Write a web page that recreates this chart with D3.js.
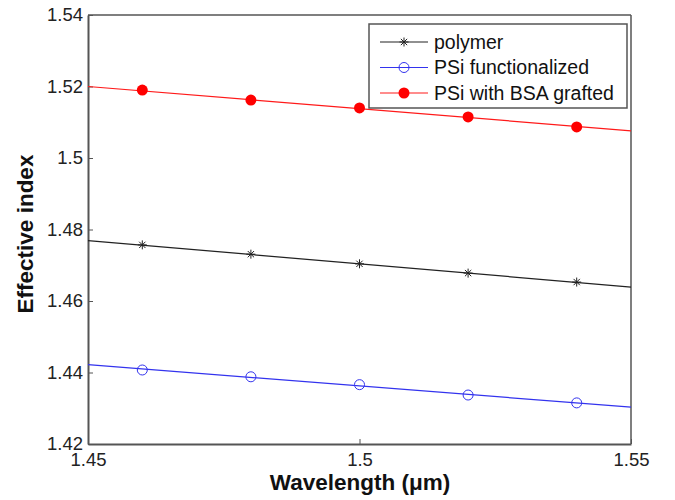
<!DOCTYPE html>
<html><head><meta charset="utf-8">
<script src="https://cdn.jsdelivr.net/npm/d3@7"></script>
<style>body{margin:0;background:#fff;font-family:Arial,"Liberation Sans",sans-serif}</style>
</head><body><svg id="c" width="675" height="500"></svg>
<script>
const wavelengths = [1.46, 1.48, 1.50, 1.52, 1.54];
const polymer = [1.4757, 1.4731, 1.4704, 1.4678, 1.4653];
const psiFunc = [1.4407, 1.4388, 1.4366, 1.4337, 1.4315];
const psiBSA = [1.5190, 1.5162, 1.5140, 1.5115, 1.5087];
const fitX = [1.45, 1.55];
const polymerFit = [1.4769, 1.4639];
const psiFuncFit = [1.4422, 1.4303];
const psiBSAFit = [1.5200, 1.5076];
const xTicks = [1.45, 1.5, 1.55];
const yTicks = [1.42, 1.44, 1.46, 1.48, 1.5, 1.52, 1.54];
const legendLabels = ["polymer", "PSi functionalized", "PSi with BSA grafted"];

const svg = d3.select("#c");
const L = 88, R = 631, T = 15, B = 444;
const x = d3.scaleLinear().domain([1.45, 1.55]).range([L, R]);
const y = d3.scaleLinear().domain([1.42, 1.54]).range([B, T]);
const axisCol = "#555";

const xa = svg.append("g").attr("transform", `translate(0,${B})`)
  .call(d3.axisBottom(x).tickValues(xTicks).tickFormat(d3.format("")).tickSizeInner(-5).tickSizeOuter(0).tickPadding(9));
const ya = svg.append("g").attr("transform", `translate(${L},0)`)
  .call(d3.axisLeft(y).tickValues(yTicks).tickFormat(d3.format("")).tickSizeInner(-5).tickSizeOuter(0).tickPadding(5));
[xa, ya].forEach(a => {
  a.selectAll("path").attr("stroke", axisCol).attr("stroke-width", 2);
  a.selectAll("line").attr("stroke", axisCol);
  a.selectAll("text").attr("font-size", 18.5).attr("font-family", "Arial, Liberation Sans").attr("fill", "#222");
});
svg.append("line").attr("x1", L).attr("x2", R).attr("y1", T).attr("y2", T).attr("stroke", axisCol).attr("stroke-width", 1.5);
svg.append("line").attr("x1", R).attr("x2", R).attr("y1", T).attr("y2", B).attr("stroke", axisCol).attr("stroke-width", 1.5);

const line = d3.line().x(d => x(d[0])).y(d => y(d[1]));
const series = [
  {fit: polymerFit, vals: polymer, color: "#222", marker: "star"},
  {fit: psiFuncFit, vals: psiFunc, color: "#3333ee", marker: "open"},
  {fit: psiBSAFit, vals: psiBSA, color: "#ff1a1a", marker: "dot"}
];
function drawMarker(g, type, color, cx, cy) {
  if (type === "dot") {
    g.append("circle").attr("cx", cx).attr("cy", cy).attr("r", 5.5).attr("fill", "#ff0000");
  } else if (type === "open") {
    g.append("circle").attr("cx", cx).attr("cy", cy).attr("r", 5).attr("fill", "none").attr("stroke", color).attr("stroke-width", 1);
  } else {
    const s = 4.5;
    const p = `M${cx-s},${cy}L${cx+s},${cy}M${cx},${cy-s}L${cx},${cy+s}M${cx-s*0.7},${cy-s*0.7}L${cx+s*0.7},${cy+s*0.7}M${cx-s*0.7},${cy+s*0.7}L${cx+s*0.7},${cy-s*0.7}`;
    g.append("path").attr("d", p).attr("stroke", color).attr("stroke-width", 1);
  }
}
series.forEach(s => {
  svg.append("path").attr("d", line(fitX.map((v, i) => [v, s.fit[i]])))
    .attr("fill", "none").attr("stroke", s.color).attr("stroke-width", 1.2);
  const g = svg.append("g");
  wavelengths.forEach((w, i) => drawMarker(g, s.marker, s.color, x(w), y(s.vals[i])));
});

const lg = svg.append("g");
lg.append("rect").attr("x", 369).attr("y", 24).attr("width", 258).attr("height", 84)
  .attr("fill", "#fff").attr("stroke", axisCol).attr("stroke-width", 1.5);
series.forEach((s, i) => {
  const ly = 42 + i * 25.5;
  lg.append("line").attr("x1", 380).attr("x2", 428).attr("y1", ly).attr("y2", ly).attr("stroke", s.color).attr("stroke-width", 1.2);
  drawMarker(lg, s.marker, s.color, 404, ly);
  lg.append("text").attr("x", 434).attr("y", ly).attr("dy", "0.35em").attr("font-size", 19.5).attr("fill", "#111").text(legendLabels[i]);
});

svg.append("text").attr("x", 360).attr("y", 490).attr("text-anchor", "middle").attr("font-size", 22.5).attr("font-weight", "bold").attr("fill", "#111").text("Wavelength (μm)");
svg.append("text").attr("transform", "translate(33,234) rotate(-90)").attr("text-anchor", "middle").attr("font-size", 22.5).attr("font-weight", "bold").attr("fill", "#111").text("Effective index");
</script></body></html>
